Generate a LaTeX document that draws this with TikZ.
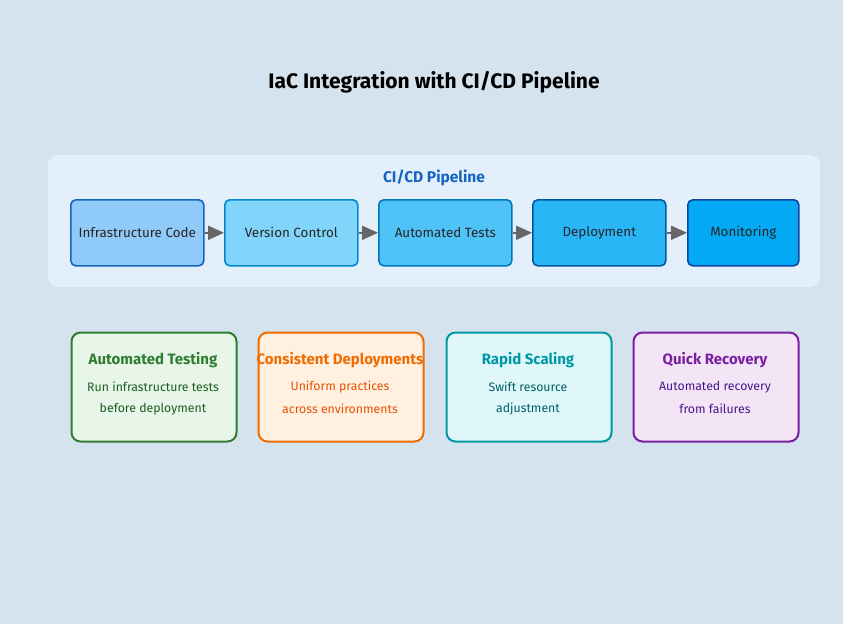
\documentclass[tikz,border=0pt]{standalone}
\usepackage{fontspec}
\setmainfont{Fira Sans}
\usetikzlibrary{arrows.meta}
\definecolor{bg}{HTML}{D5E3EE}
\definecolor{panel}{HTML}{E3F0FB}
\definecolor{ptitle}{HTML}{1565C0}
\definecolor{arr}{HTML}{666666}
\definecolor{fA}{HTML}{90CAF9}\definecolor{sA}{HTML}{1565C0}
\definecolor{fB}{HTML}{81D4FA}\definecolor{sB}{HTML}{0288D1}
\definecolor{fC}{HTML}{4FC3F7}\definecolor{sC}{HTML}{0277BD}
\definecolor{fD}{HTML}{29B6F6}\definecolor{sD}{HTML}{01579B}
\definecolor{fE}{HTML}{03A9F4}\definecolor{sE}{HTML}{0D47A1}
\definecolor{gS}{HTML}{2E7D32}\definecolor{gF}{HTML}{E8F5E9}\definecolor{gT}{HTML}{1B5E20}
\definecolor{oS}{HTML}{EF6C00}\definecolor{oF}{HTML}{FFF0DF}\definecolor{oT}{HTML}{E65100}
\definecolor{tS}{HTML}{0097A7}\definecolor{tF}{HTML}{E0F7FA}\definecolor{tT}{HTML}{006064}
\definecolor{pS}{HTML}{7B1FA2}\definecolor{pF}{HTML}{F3E5F5}\definecolor{pT}{HTML}{4A148C}
\begin{document}
\begin{tikzpicture}[x=1pt,y=-1pt,
  stage/.style={draw=#1, line width=1.6pt, rounded corners=5pt, minimum height=66pt, anchor=north west, inner sep=0pt, font=\fontsize{13.4}{16}\selectfont, text=black!85},
  card/.style={draw=#1, line width=2pt, rounded corners=9pt, minimum width=165pt, minimum height=109pt, anchor=north west, inner sep=0pt},
  ctitle/.style={font=\bfseries\fontsize{15}{18}\selectfont},
  cdesc/.style={font=\fontsize{12.3}{15}\selectfont},
  flow/.style={draw=arr, line width=2pt, -{Triangle[length=16pt,width=14pt]}, shorten >=0pt}
]
\useasboundingbox (0,0) rectangle (843,624);
\fill[bg] (0,0) rectangle (843,624);
\node[font=\bfseries\fontsize{21}{25}\selectfont] (title) at (434,82) {IaC Integration with CI/CD Pipeline};
\fill[panel, rounded corners=10pt] (48,155) rectangle (820,287);
\node[font=\bfseries\fontsize{15.5}{18}\selectfont, text=ptitle] (ptitle) at (434,178) {CI/CD Pipeline};
\node[stage=sA, fill=fA, minimum width=133pt] (s1) at (70,199) {Infrastructure Code};
\node[stage=sB, fill=fB, minimum width=133pt] (s2) at (224,199) {Version Control};
\node[stage=sC, fill=fC, minimum width=133pt] (s3) at (378,199) {Automated Tests};
\node[stage=sD, fill=fD, minimum width=133pt] (s4) at (532,199) {Deployment};
\node[stage=sE, fill=fE, minimum width=111pt] (s5) at (687,199) {Monitoring};
\draw[flow] (s1.east) -- (s2.west);
\draw[flow] (s2.east) -- (s3.west);
\draw[flow] (s3.east) -- (s4.west);
\draw[flow] (s4.east) -- (s5.west);
% cards
\node[card=gS, fill=gF] (c1) at (70.5,331.5) {};
\node[card=oS, fill=oF] (c2) at (257.5,331.5) {};
\node[card=tS, fill=tF] (c3) at (445.5,331.5) {};
\node[card=pS, fill=pF] (c4) at (632.5,331.5) {};
\node[ctitle, text=gS] (c1t) at (153,360) {Automated Testing};
\node[cdesc, text=gT] (c1a) at (153,387) {Run infrastructure tests};
\node[cdesc, text=gT] (c1b) at (153,409) {before deployment};
\node[ctitle, text=oS] (c2t) at (340,360) {Consistent Deployments};
\node[cdesc, text=oT] (c2a) at (340,387) {Uniform practices};
\node[cdesc, text=oT] (c2b) at (340,409) {across environments};
\node[ctitle, text=tS] (c3t) at (528,360) {Rapid Scaling};
\node[cdesc, text=tT] (c3a) at (528,387) {Swift resource};
\node[cdesc, text=tT] (c3b) at (528,409) {adjustment};
\node[ctitle, text=pS] (c4t) at (715,360) {Quick Recovery};
\node[cdesc, text=pT] (c4a) at (715,387) {Automated recovery};
\node[cdesc, text=pT] (c4b) at (715,409) {from failures};
\end{tikzpicture}
\end{document}
